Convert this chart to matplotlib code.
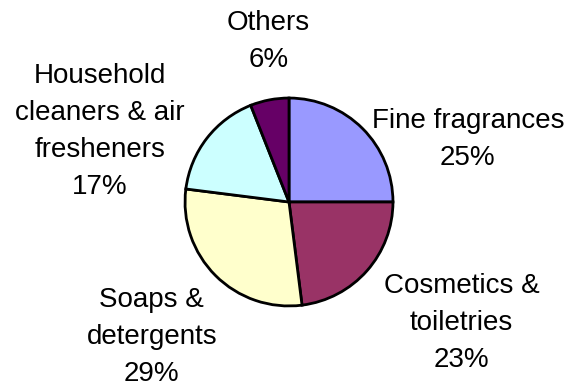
import matplotlib
matplotlib.use('Agg')
import matplotlib.pyplot as plt

labels = ['Fine fragrances', 'Cosmetics &\ntoiletries', 'Soaps &\ndetergents',
          'Household\ncleaners & air\nfresheners', 'Others']
shares = [25, 23, 29, 17, 6]
colors = ['#9999FF', '#993366', '#FFFFCC', '#CCFFFF', '#660066']
# label centres relative to the pie (radius = 1)
label_pos = [(1.72, 0.60), (1.66, -1.16), (-1.32, -1.30), (-1.82, 0.68), (-0.20, 1.54)]

plt.rcParams['font.family'] = ['Liberation Sans', 'DejaVu Sans']

fig = plt.figure(figsize=(5.7, 3.87), dpi=100)
W, H = 570, 387
cx, cy, r = 289, 387 - 202, 105
ax = fig.add_axes([(cx - r) / W, (cy - r) / H, 2 * r / W, 2 * r / H])

ax.pie(shares, colors=colors, startangle=90, counterclock=False, radius=1,
       wedgeprops={'edgecolor': 'black', 'linewidth': 2})
ax.set_xlim(-1.01, 1.01)
ax.set_ylim(-1.01, 1.01)

for lab, s, (x, y) in zip(labels, shares, label_pos):
    ax.text(x, y, '{}\n{}%'.format(lab, s), ha='center', va='center',
            fontsize=20, linespacing=1.55, clip_on=False)

fig.savefig('out.png', dpi=100)
